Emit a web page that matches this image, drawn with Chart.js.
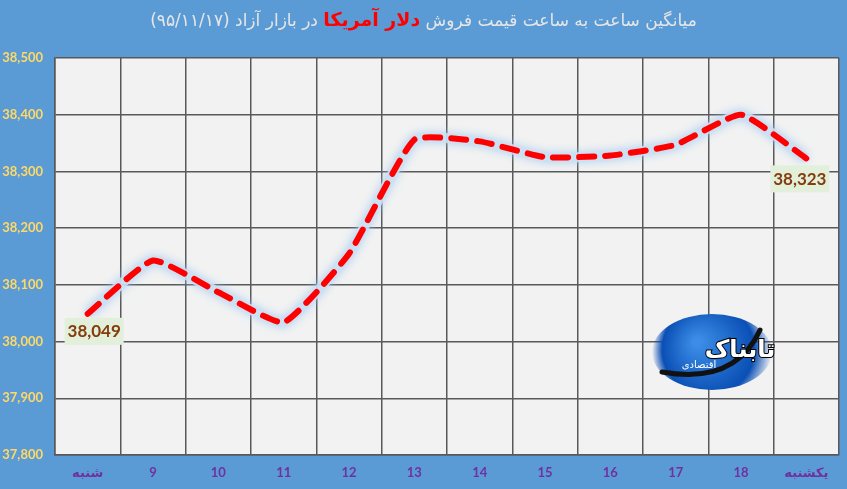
<!DOCTYPE html>
<html>
<head>
<meta charset="utf-8">
<script src="https://cdn.jsdelivr.net/npm/chart.js@4/dist/chart.umd.min.js"></script>
<style>
  body { margin: 0; background: #5B9BD5; }
  #wrap { position: relative; width: 847px; height: 489px; }
  #title {
    position: absolute; top: 8px; left: 0; width: 847px; text-align: center;
    direction: rtl; color: #E7E6E6; font: 17px "DejaVu Sans", sans-serif;
  }
  #title b { color: #FF0000; font-size: 19px; }
</style>
</head>
<body>
<div id="wrap">
  <canvas id="lineChart" width="847" height="489"></canvas>
  <div id="title">میانگین ساعت به ساعت قیمت فروش <b>دلار آمریکا</b> در بازار آزاد (۹۵/۱۱/۱۷)</div>
</div>
<script>
const labels = ['شنبه', '9', '10', '11', '12', '13', '14', '15', '16', '17', '18', 'یکشنبه'];
const prices = [38049, 38143, 38087, 38034, 38155, 38356, 38353, 38325, 38328, 38347, 38400, 38323];
const yTicks = [37800, 37900, 38000, 38100, 38200, 38300, 38400, 38500];

// plot background + logo
const areaBg = {
  id: 'areaBg',
  beforeDraw(chart) {
    const { ctx, chartArea: a } = chart;
    ctx.save();
    ctx.fillStyle = '#F2F2F2';
    ctx.fillRect(a.left, a.top, a.right - a.left, a.bottom - a.top);
    ctx.restore();
  },
  beforeDatasetsDraw(chart) {
    const ctx = chart.ctx;
    ctx.save();
    const cx = 712, cy = 352;
    const g = ctx.createRadialGradient(cx - 15, cy - 10, 4, cx, cy, 60);
    g.addColorStop(0, '#3b8de6');
    g.addColorStop(0.75, '#0a4fb5');
    g.addColorStop(1, 'rgba(10,79,181,0)');
    ctx.fillStyle = g;
    ctx.beginPath();
    ctx.ellipse(cx, cy, 60, 38, 0, 0, Math.PI * 2);
    ctx.fill();
    // swoosh
    ctx.strokeStyle = '#111';
    ctx.lineWidth = 5;
    ctx.lineCap = 'round';
    ctx.beginPath();
    ctx.moveTo(662, 372);
    ctx.quadraticCurveTo(735, 385, 760, 330);
    ctx.stroke();
    ctx.fillStyle = '#fff';
    ctx.strokeStyle = '#000';
    ctx.lineWidth = 2;
    ctx.textAlign = 'center';
    ctx.font = 'bold 24px "DejaVu Sans"';
    ctx.strokeText('تابناک', 740, 357);
    ctx.fillText('تابناک', 740, 357);
    ctx.font = '10px "DejaVu Sans"';
    ctx.fillText('اقتصادی', 699, 368);
    ctx.restore();
  }
};

// glow under the dashed line
const glow = {
  id: 'glow',
  beforeDatasetDraw(chart, args) {
    if (args.index === 1) {
      chart.ctx.save();
      chart.ctx.shadowColor = 'rgba(160,200,240,0.9)';
      chart.ctx.shadowBlur = 8;
    }
  },
  afterDatasetDraw(chart, args) {
    if (args.index === 1) chart.ctx.restore();
  }
};

// first / last value labels
const endLabels = {
  id: 'endLabels',
  afterDatasetsDraw(chart) {
    const ctx = chart.ctx;
    const pts = chart.getDatasetMeta(0).data;
    const boxes = [
      { i: 0, dx: -23, dy: 4 },
      { i: prices.length - 1, dx: -36, dy: 7 }
    ];
    ctx.save();
    ctx.font = 'bold 17px Lato';
    ctx.textBaseline = 'middle';
    ctx.textAlign = 'center';
    boxes.forEach(b => {
      const p = pts[b.i];
      const x = p.x + b.dx, y = p.y + b.dy;
      ctx.fillStyle = '#E2EFDA';
      ctx.fillRect(x, y, 59, 27);
      ctx.fillStyle = '#843C0C';
      ctx.fillText(prices[b.i].toLocaleString('en-US'), x + 29.5, y + 14);
    });
    ctx.restore();
  }
};

new Chart(document.getElementById('lineChart'), {
  type: 'line',
  data: {
    labels: labels,
    datasets: [
      {
        data: prices, borderColor: '#FF0000', borderWidth: 6,
        borderDash: [15, 11], borderCapStyle: 'round', borderJoinStyle: 'round',
        tension: 0.15, pointRadius: 0, order: 0
      },
      {
        data: prices, borderColor: 'rgba(205,225,245,0.85)', borderWidth: 10,
        tension: 0.15, pointRadius: 0, order: 1
      }
    ]
  },
  options: {
    responsive: false,
    animation: false,
    layout: { padding: { top: 58, right: 8, left: 0, bottom: 0 } },
    plugins: { legend: { display: false }, tooltip: { enabled: false } },
    scales: {
      x: {
        offset: true,
        grid: { offset: true, color: '#595959', lineWidth: 1.5, drawTicks: false },
        border: { color: '#595959', width: 1.5 },
        ticks: { color: '#7030A0', font: { family: 'Lato, "DejaVu Sans"', size: 13, weight: 'bold' }, padding: 10, maxRotation: 0, autoSkip: false },
        afterFit(s) { s.height = 34; }
      },
      y: {
        min: yTicks[0], max: yTicks[yTicks.length - 1],
        afterBuildTicks(s) { s.ticks = yTicks.map(v => ({ value: v })); },
        grid: { color: '#595959', lineWidth: 1.5, drawTicks: false },
        border: { color: '#595959', width: 1.5 },
        ticks: {
          color: '#FFD966', font: { family: 'Lato', size: 13, weight: 'bold' }, padding: 12,
          callback: v => v.toLocaleString('en-US')
        },
        afterFit(s) { s.width = 55; }
      }
    }
  },
  plugins: [areaBg, glow, endLabels]
});
</script>
</body>
</html>
